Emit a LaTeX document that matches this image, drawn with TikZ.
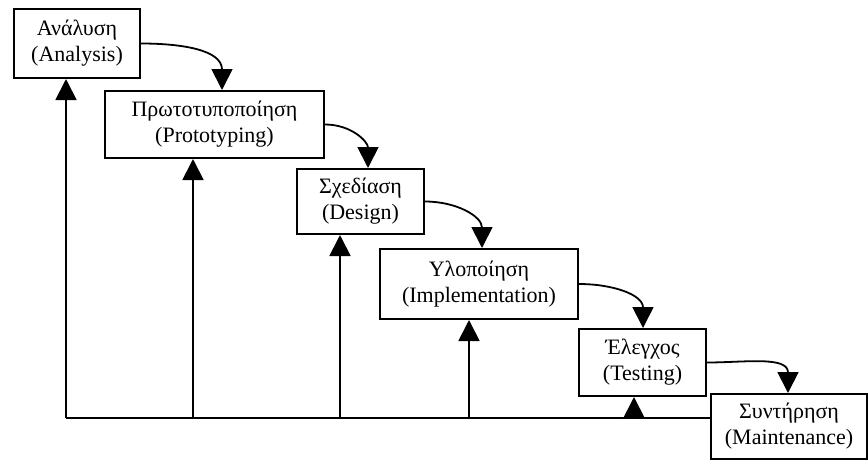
\documentclass[tikz,border=0pt]{standalone}
\usepackage{fontspec}
\setmainfont{Liberation Serif}
\usetikzlibrary{arrows.meta,calc}
\begin{document}
\begin{tikzpicture}[x=1pt,y=-1pt,
  phase/.style={draw,line width=2pt,anchor=north west,inner sep=0pt,
    align=center,font=\fontsize{22}{26}\selectfont},
  tip/.style={-{Triangle[width=21pt,length=21pt]}},
  flow/.style={line width=1.8pt,tip},
  back/.style={line width=1.8pt,tip},
  base/.style={line width=1.8pt}]
\useasboundingbox (0,0) rectangle (868,461);

% phases of the life cycle
\node[phase,minimum width=126pt,minimum height=69pt] (b1) at (13,8)   {Ανάλυση\\(Analysis)};
\node[phase,minimum width=219pt,minimum height=67pt] (b2) at (104,90) {Πρωτοτυποποίηση\\(Prototyping)};
\node[phase,minimum width=127pt,minimum height=65pt] (b3) at (296,168){Σχεδίαση\\(Design)};
\node[phase,minimum width=198pt,minimum height=70pt] (b4) at (379,248){Υλοποίηση\\(Implementation)};
\node[phase,minimum width=127pt,minimum height=67pt] (b5) at (578,328){Έλεγχος\\(Testing)};
\node[phase,minimum width=156pt,minimum height=65pt] (b6) at (710,393){Συντήρηση\\(Maintenance)};

% forward flow between phases
\draw[flow] (b1.east) to[out=0,in=90,looseness=1.1] ([xshift=118pt]b2.north west);
\draw[flow] (b2.east) to[out=0,in=90,looseness=1.1] ([xshift=72pt]b3.north west);
\draw[flow] (b3.east) to[out=0,in=90,looseness=1.1] ([xshift=103pt]b4.north west);
\draw[flow] (b4.east) to[out=0,in=90,looseness=1.1] ([xshift=65pt]b5.north west);
\draw[flow] (b5.east) to[out=0,in=90,looseness=1.1] ([xshift=78pt]b6.north west);

% feedback from maintenance to every earlier phase
\coordinate (f1) at (66,418);
\coordinate (f2) at (193,418);
\coordinate (f3) at (340,418);
\coordinate (f4) at (469,418);
\coordinate (f5) at (634,418);
\draw[base] (f1) -- (f1 -| b6.west);
\draw[back] (f1) -- (f1 |- b1.south);
\draw[back] (f2) -- (f2 |- b2.south);
\draw[back] (f3) -- (f3 |- b3.south);
\draw[back] (f4) -- (f4 |- b4.south);
\draw[back] (f5) -- (f5 |- b5.south);
\end{tikzpicture}
\end{document}
